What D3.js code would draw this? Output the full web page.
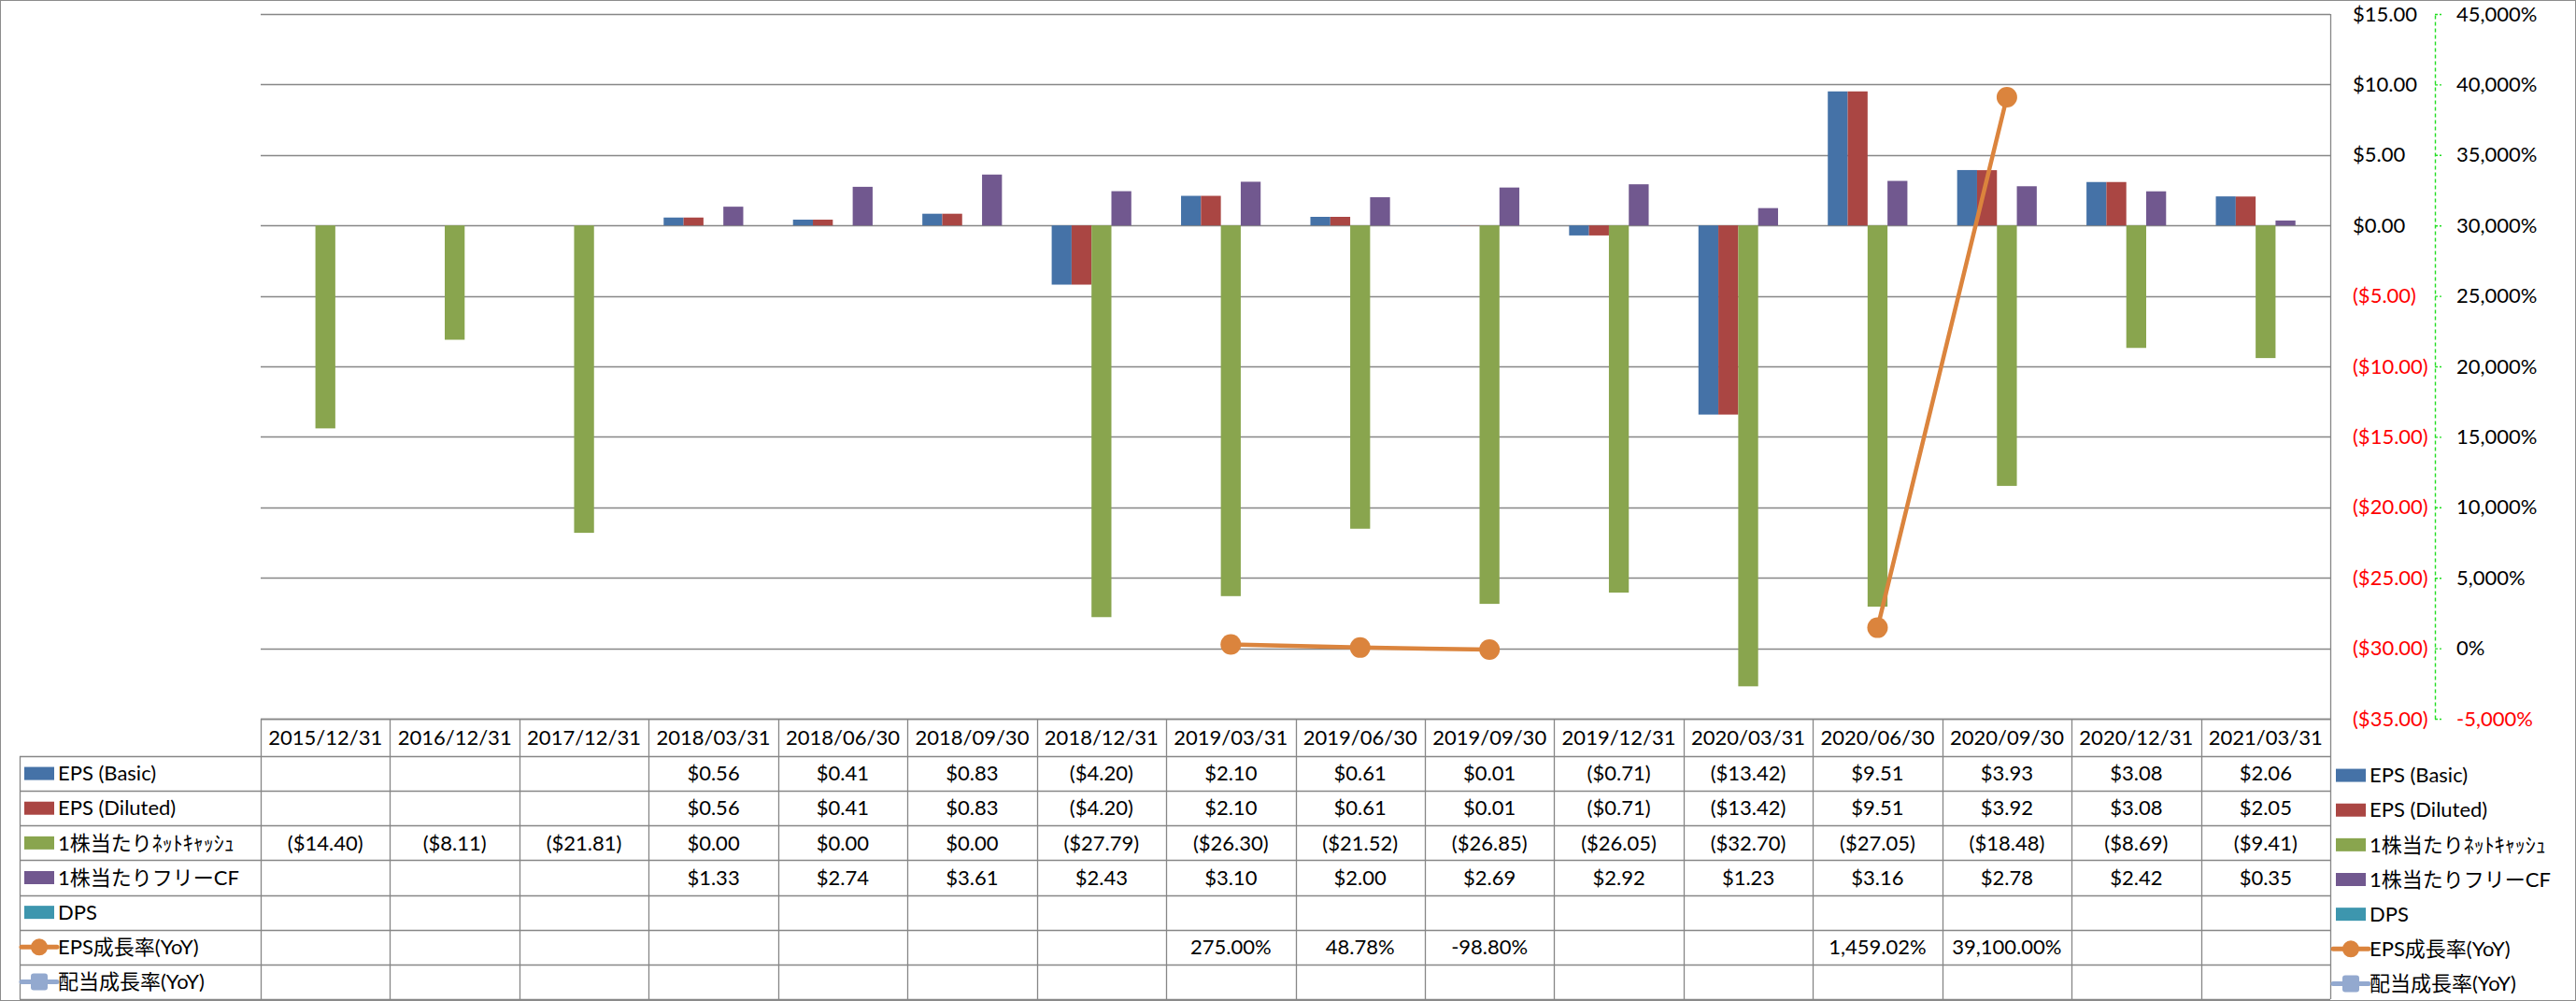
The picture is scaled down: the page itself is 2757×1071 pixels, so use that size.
<!DOCTYPE html>
<html>
<head>
<meta charset="utf-8">
<script src="https://cdn.jsdelivr.net/npm/d3@7"></script>
<style>
  html, body { margin: 0; padding: 0; background: #fff; }
  svg { display: block; }
  text { font-family: Lato, "Noto Sans CJK JP", sans-serif; font-size: 22px; }
</style>
</head>
<body>
<svg id="chart" width="2757" height="1071"></svg>
<script>
// ---------- DATA ----------
const categories = ["2015/12/31","2016/12/31","2017/12/31","2018/03/31","2018/06/30","2018/09/30","2018/12/31","2019/03/31","2019/06/30","2019/09/30","2019/12/31","2020/03/31","2020/06/30","2020/09/30","2020/12/31","2021/03/31"];
const epsBasic   = [null,null,null,0.56,0.41,0.83,-4.20,2.10,0.61,0.01,-0.71,-13.42,9.51,3.93,3.08,2.06];
const epsDiluted = [null,null,null,0.56,0.41,0.83,-4.20,2.10,0.61,0.01,-0.71,-13.42,9.51,3.92,3.08,2.05];
const netCash    = [-14.40,-8.11,-21.81,0.00,0.00,0.00,-27.79,-26.30,-21.52,-26.85,-26.05,-32.70,-27.05,-18.48,-8.69,-9.41];
const freeCF     = [null,null,null,1.33,2.74,3.61,2.43,3.10,2.00,2.69,2.92,1.23,3.16,2.78,2.42,0.35];
const dps        = [null,null,null,null,null,null,null,null,null,null,null,null,null,null,null,null];
const epsGrowth  = [null,null,null,null,null,null,null,275.00,48.78,-98.80,null,null,1459.02,39100.00,null,null];
const divGrowth  = [null,null,null,null,null,null,null,null,null,null,null,null,null,null,null,null];
const seriesNames = ["EPS (Basic)","EPS (Diluted)","1株当たりﾈｯﾄｷｬｯｼｭ","1株当たりフリーCF","DPS","EPS成長率(YoY)","配当成長率(YoY)"];
const primaryTicks = [-35,-30,-25,-20,-15,-10,-5,0,5,10,15];
const secondaryTicks = [-5000,0,5000,10000,15000,20000,25000,30000,35000,40000,45000];

// ---------- SETUP ----------
const colors = ["#4572A7","#AA4643","#89A54E","#71588F","#3D96AE","#DB843D","#93A9CF"];
const barSeries = [epsBasic, epsDiluted, netCash, freeCF, dps];
const lineSeries = [epsGrowth, divGrowth];
const types = ["bar","bar","bar","bar","bar","line","line"];
const allSeries = [...barSeries, ...lineSeries];

const svg = d3.select("#chart");
const W = 2757, H = 1071;
const L = 279, R = 2494, T = 15, B = 769;
const gridColor = "#878787";
const FONT = 'Lato, "Noto Sans CJK JP", sans-serif';

const x = d3.scaleBand().domain(categories).range([L, R]).padding(0);
const bw = x.bandwidth();
const gap = bw * 1.5 / 6.5;
const x1 = d3.scaleBand().domain(d3.range(barSeries.length)).range([gap/2, bw - gap/2]).padding(0);
const y = d3.scaleLinear().domain([-35, 15]).range([B, T]);
const y2 = d3.scaleLinear().domain([-5000, 45000]).range([B, T]);

const hy = s => s.replace(/\u2212/g, "-");
const fmtCur = v => v == null ? "" : (v < 0 ? "($" + d3.format(".2f")(-v) + ")" : "$" + d3.format(".2f")(v));
const fmtPct = v => v == null ? "" : hy(d3.format(",.2f")(v)) + "%";
const fmtAxisPct = v => hy(d3.format(",")(v)) + "%";

// outer border
svg.append("rect").attr("x",0.5).attr("y",0.5).attr("width",W-1).attr("height",H-1)
  .attr("fill","none").attr("stroke","#8c8c8c").attr("stroke-width",1);

// gridlines
svg.append("g").selectAll("line").data(primaryTicks).join("line")
  .attr("x1", L).attr("x2", R)
  .attr("y1", d => Math.round(y(d)) + 0.5).attr("y2", d => Math.round(y(d)) + 0.5)
  .attr("stroke", gridColor).attr("stroke-width", 1.3);

// plot right border
svg.append("line").attr("x1", R+0.5).attr("x2", R+0.5).attr("y1", T).attr("y2", H-2)
  .attr("stroke", gridColor).attr("stroke-width", 1.3);

// bars
const barsG = svg.append("g");
barSeries.forEach((s, si) => {
  barsG.append("g").selectAll("rect")
    .data(s.map((v, i) => ({v, c: categories[i]})).filter(d => d.v != null && d.v !== 0))
    .join("rect")
    .attr("x", d => x(d.c) + x1(si))
    .attr("width", x1.bandwidth())
    .attr("y", d => Math.min(y(d.v), y(0)))
    .attr("height", d => Math.abs(y(d.v) - y(0)))
    .attr("fill", colors[si]);
});

// lines
lineSeries.forEach((s, li) => {
  const col = colors[5 + li];
  const pts = s.map((v, i) => ({v, c: categories[i]}));
  const line = d3.line().defined(d => d.v != null)
    .x(d => x(d.c) + bw/2).y(d => y2(d.v));
  svg.append("path").datum(pts).attr("d", line)
    .attr("fill","none").attr("stroke", col).attr("stroke-width", 4.5).attr("stroke-linejoin","round");
  svg.append("g").selectAll("circle").data(pts.filter(d => d.v != null)).join("circle")
    .attr("cx", d => x(d.c) + bw/2).attr("cy", d => y2(d.v)).attr("r", 11)
    .attr("fill", col);
});

// primary axis (right)
const ax1 = svg.append("g").attr("transform", `translate(${R},0)`)
  .call(d3.axisRight(y).tickValues(primaryTicks).tickSize(0).tickPadding(24).tickFormat(fmtCur));
ax1.select(".domain").remove();
ax1.selectAll("text").style("font-family", FONT).style("font-size","22px")
  .style("fill", d => d < 0 ? "#ff0000" : "#000");

// secondary axis
const ax2 = svg.append("g").attr("transform", `translate(2606,0)`)
  .call(d3.axisRight(y2).tickValues(secondaryTicks).tickSize(7).tickSizeOuter(0).tickPadding(16).tickFormat(fmtAxisPct));
ax2.select(".domain").attr("stroke","#22dd22").attr("stroke-dasharray","4,3").attr("stroke-width",1.4);
ax2.selectAll(".tick line").attr("stroke","#22dd22").attr("stroke-dasharray","3,2").attr("stroke-width",1.4);
ax2.selectAll("text").style("font-family", FONT).style("font-size","22px")
  .style("fill", d => d < 0 ? "#ff0000" : "#000");

// ---------- DATA TABLE ----------
const tbl = svg.append("g");
const headTop = B, headBot = 809, rowH = (1069 - headBot) / 7;
const LC = 21;
const lineAttr = sel => sel.attr("stroke", gridColor).attr("stroke-width", 1.3);

// horizontal lines
lineAttr(tbl.append("line").attr("x1", L).attr("x2", R).attr("y1", headTop + 0.5).attr("y2", headTop + 0.5));
for (let r = 0; r <= 7; r++) {
  const yy = Math.round(headBot + r * rowH) + 0.5;
  lineAttr(tbl.append("line").attr("x1", LC).attr("x2", R).attr("y1", yy).attr("y2", yy));
}
// vertical lines
lineAttr(tbl.append("line").attr("x1", LC + 0.5).attr("x2", LC + 0.5).attr("y1", headBot).attr("y2", 1069));
categories.forEach(c => {
  const xx = Math.round(x(c)) + 0.5;
  lineAttr(tbl.append("line").attr("x1", xx).attr("x2", xx).attr("y1", headTop).attr("y2", 1069));
});

// header labels
tbl.append("g").selectAll("text").data(categories).join("text")
  .attr("x", d => x(d) + bw/2).attr("y", (headTop + headBot)/2).attr("dy","0.35em")
  .attr("text-anchor","middle").style("fill","#000").text(d => d);

// row values
allSeries.forEach((s, si) => {
  const cy = headBot + (si + 0.5) * rowH;
  const fmt = types[si] === "bar" ? fmtCur : fmtPct;
  tbl.append("g").selectAll("text").data(s.map((v, i) => ({v, c: categories[i]}))).join("text")
    .attr("x", d => x(d.c) + bw/2).attr("y", cy).attr("dy","0.35em")
    .attr("text-anchor","middle").style("fill","#000").text(d => fmt(d.v));
});

// legend key drawer
function drawKey(g, si, kx, cy) {
  const col = colors[si];
  if (types[si] === "bar") {
    g.append("rect").attr("x", kx).attr("y", cy - 7).attr("width", 32).attr("height", 14).attr("fill", col);
  } else {
    g.append("line").attr("x1", kx - 3).attr("x2", kx + 35).attr("y1", cy).attr("y2", cy)
      .attr("stroke", col).attr("stroke-width", 5).attr("stroke-linecap","round");
    if (si === 5) {
      g.append("circle").attr("cx", kx + 16).attr("cy", cy).attr("r", 9).attr("fill", col);
    } else {
      g.append("rect").attr("x", kx + 7).attr("y", cy - 9).attr("width", 18).attr("height", 18)
        .attr("rx", 3).attr("fill", col);
    }
  }
}

// table row labels
seriesNames.forEach((name, si) => {
  const cy = headBot + (si + 0.5) * rowH;
  drawKey(tbl, si, 26, cy);
  tbl.append("text").attr("x", 62).attr("y", cy).attr("dy","0.35em").style("fill","#000").text(name);
});

// right legend
const lg = svg.append("g");
seriesNames.forEach((name, si) => {
  const cy = headBot + (si + 0.5) * rowH + 2;
  drawKey(lg, si, 2500, cy);
  lg.append("text").attr("x", 2536).attr("y", cy).attr("dy","0.35em").style("fill","#000").text(name);
});
</script>
</body>
</html>
